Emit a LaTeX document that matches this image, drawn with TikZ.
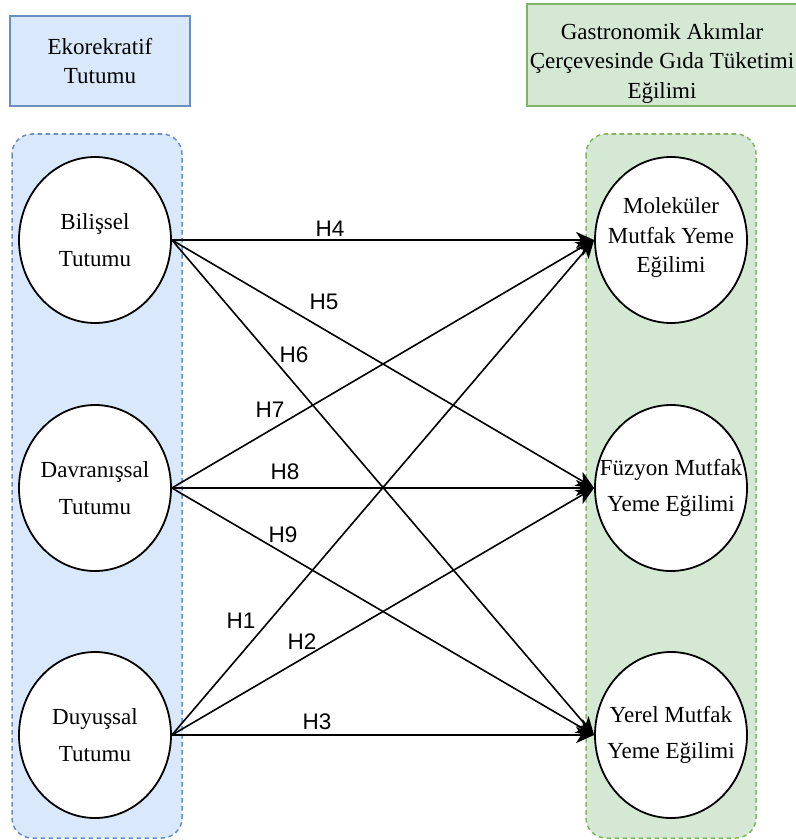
\documentclass[tikz,border=0pt]{standalone}
\usepackage{fontspec}
\setmainfont{Liberation Serif}
\newfontfamily\hypfont{Liberation Sans}
\usetikzlibrary{arrows.meta,shapes.geometric}
\definecolor{bluefill}{HTML}{DAE8FC}
\definecolor{bluedraw}{HTML}{6C8EBF}
\definecolor{greenfill}{HTML}{D5E8D4}
\definecolor{greendraw}{HTML}{82B366}

\begin{document}
\begin{tikzpicture}[x=1pt,y=-1pt,
 header/.style={rectangle,line width=1.5pt,inner sep=0pt},
 headtext/.style={align=center,inner sep=0pt,font=\fontsize{23}{29.5}\selectfont},
 group/.style={line width=1.5pt,dash pattern=on 4.5pt off 3.5pt,rounded corners=20pt},
 attitude/.style={ellipse,draw=black,fill=white,line width=1.8pt,
   minimum width=152pt,minimum height=166pt,inner sep=0pt},
 attext/.style={align=center,inner sep=0pt,font=\fontsize{23}{36.5}\selectfont},
 path/.style={-{Stealth[length=18pt,width=16pt,inset=5pt]},line width=1.6pt},
 hyp/.style={inner sep=0pt,font=\hypfont\fontsize{22.5}{24}\selectfont}]

\useasboundingbox (0,0) rectangle (795,840);

% dashed group frames behind the constructs
\draw[group,draw=bluedraw,fill=bluefill] (12,134) rectangle (182,838);
\draw[group,draw=greendraw,fill=greenfill] (586,134) rectangle (756,838);

\node[header,draw=bluedraw,fill=bluefill,minimum width=180pt,minimum height=90pt]
  (eko) at (100,61) {};
\node[headtext] (ekoText) at (eko) {Ekorekratif\\Tutumu};
\node[header,draw=greendraw,fill=greenfill,minimum width=280pt,minimum height=102pt]
  (gastro) at (667,55) {};
\node[headtext] (gastroText) at (662,63.5)
  {Gastronomik Akımlar\\Çerçevesinde Gıda Tüketimi\\Eğilimi};

\node[attitude] (bil) at (95,240) {};
\node[attitude] (dav) at (95,488) {};
\node[attitude] (duy) at (95,735) {};
\node[attitude] (mol) at (671,240) {};
\node[attitude] (fuz) at (671,488) {};
\node[attitude] (yer) at (671,735) {};

\node[attext] (bilText) at (bil) {Bilişsel\\Tutumu};
\node[attext] (davText) at (dav) {Davranışsal\\Tutumu};
\node[attext] (duyText) at (duy) {Duyuşsal\\Tutumu};
\node[attext,font=\fontsize{23}{29.5}\selectfont] (molText) at (671,238)
  {Moleküler\\Mutfak Yeme\\Eğilimi};
\node[attext] (fuzText) at (fuz) {Füzyon Mutfak\\Yeme Eğilimi};
\node[attext] (yerText) at (yer) {Yerel Mutfak\\Yeme Eğilimi};

\foreach \src/\dst in {bil/mol,bil/fuz,bil/yer,dav/mol,dav/fuz,dav/yer,
  duy/mol,duy/fuz,duy/yer}
  \draw[path] (\src.east) -- (\dst.west);

\foreach \n/\px/\py in {1/241/621,2/302/642,3/317/722,4/330/229,5/324/302,
  6/294/355,7/270/410,8/285/472,9/283/535}
  \node[hyp] (h\n) at (\px,\py) {H\n};
\end{tikzpicture}
\end{document}
